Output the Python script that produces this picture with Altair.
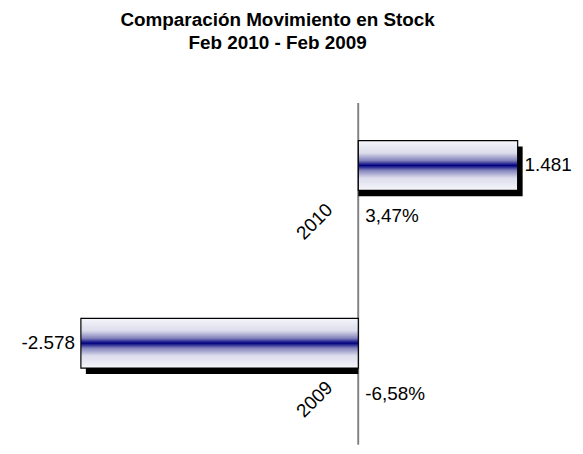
import altair as alt
import pandas as pd

years = ["2010", "2009"]
stock_change = [1481, -2578]
value_labels = ["1.481", "-2.578"]
pct_labels = ["3,47%", "-6,58%"]

df = pd.DataFrame({"year": years, "value": stock_change,
                   "vlabel": value_labels, "plabel": pct_labels})
df["zero"] = 0

FONT = "Liberation Sans"
FS = 19
W, H = 531, 383

xs = alt.Scale(domain=[-3200, 1700], nice=False, zero=False)
x = alt.X("value:Q", scale=xs, axis=None)
x0 = alt.X("zero:Q", scale=xs, axis=None)
y = alt.Y("year:N", sort=years,
          scale=alt.Scale(paddingInner=0.72, paddingOuter=0.43), axis=None)

grad = alt.Gradient(
    gradient="linear", x1=0, y1=0, x2=0, y2=1,
    stops=[
        alt.GradientStop(color="#f6f6fb", offset=0),
        alt.GradientStop(color="#dcdcec", offset=0.25),
        alt.GradientStop(color="#8484bd", offset=0.40),
        alt.GradientStop(color="#000080", offset=0.5),
        alt.GradientStop(color="#8484bd", offset=0.60),
        alt.GradientStop(color="#dcdcec", offset=0.75),
        alt.GradientStop(color="#f6f6fb", offset=1),
    ],
)

base = alt.Chart(df)

axis_line = base.mark_rule(color="#808080", strokeWidth=1.6).encode(
    x=x0, y=alt.value(39), y2=alt.value(H))

shadow = base.mark_bar(color="black", xOffset=5, yOffset=6).encode(x=x, x2="zero:Q", y=y)

bars = base.mark_bar(color=grad, stroke="black", strokeWidth=1.2).encode(x=x, x2="zero:Q", y=y)

pos_labels = base.transform_filter("datum.value > 0").mark_text(
    align="left", baseline="middle", dx=7, font=FONT, fontSize=FS, color="black"
).encode(x=x, y=y, text="vlabel:N")

neg_labels = base.transform_filter("datum.value < 0").mark_text(
    align="right", baseline="middle", dx=-6, font=FONT, fontSize=FS, color="black"
).encode(x=x, y=y, text="vlabel:N")

cat_labels = base.mark_text(
    angle=315, align="right", baseline="middle", dx=-50, dy=9,
    font=FONT, fontSize=FS, color="black"
).encode(x=x0, y=y, text="year:N")

pct = base.mark_text(
    align="left", baseline="middle", dx=7, dy=51, font=FONT, fontSize=FS, color="black"
).encode(x=x0, y=y, text="plabel:N")

chart = alt.layer(axis_line, shadow, bars, pos_labels, neg_labels, cat_labels, pct).properties(
    width=W, height=H,
    autosize=alt.AutoSizeParams(type="none"),
    padding={"left": 6, "top": 55, "right": 34, "bottom": 0},
    title=alt.TitleParams(
        text=["Comparación Movimiento en Stock", "Feb 2010 - Feb 2009"],
        font=FONT, fontSize=19, fontWeight="bold", color="black",
        anchor="middle", offset=11, lineHeight=23,
    ),
).configure_view(stroke=None)

chart.save("out.html", embed_options={"renderer": "svg", "actions": False})
